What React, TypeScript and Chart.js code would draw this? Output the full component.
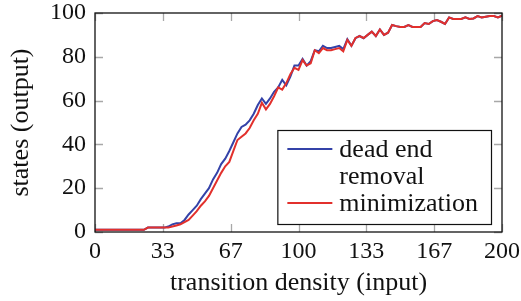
import React, { useEffect, useRef } from "react";
import { Chart, registerables } from "chart.js";

Chart.register(...registerables);

// x positions (transition density)
const xValues = [
  0, 2, 4, 6, 8, 10, 12, 14, 16, 18, 20, 22, 24, 26, 28, 30, 32, 34, 36, 38,
  40, 42, 44, 46, 48, 50, 52, 54, 56, 58, 60, 62, 64, 66, 68, 70, 72, 74, 76, 78,
  80, 82, 84, 86, 88, 90, 92, 94, 96, 98, 100, 102, 104, 106, 108, 110, 112, 114, 116, 118,
  120, 122, 124, 126, 128, 130, 132, 134, 136, 138, 140, 142, 144, 146, 148, 150, 152, 154, 156, 158,
  160, 162, 164, 166, 168, 170, 172, 174, 176, 178, 180, 182, 184, 186, 188, 190, 192, 194, 196, 198,
  200,
];

// dead end removal (blue)
const deadEndRemoval = [
  1, 1, 1, 1, 1, 1, 1, 1, 1, 1, 1, 1, 1, 2, 2, 2, 2, 2, 2.5, 3.5,
  4, 4, 5.5, 8, 10, 12, 15, 17.5, 20, 24, 27, 31, 33.5, 37, 41, 45, 48, 49, 51, 54,
  58, 61, 58.5, 61, 64, 66, 69.5, 67, 71, 76, 76, 79, 76, 78, 83, 82.5, 85, 84, 84, 84.5,
  85, 83.5, 88, 85, 88.5, 89.5, 88.5, 90, 91.5, 89.5, 92.5, 90, 91, 94.5, 94, 93.6, 93.6, 94.5, 93.6, 93.6,
  93.6, 95.4, 95, 96.3, 96.8, 96, 95, 98, 97.3, 97.3, 97.3, 98, 97.3, 97.5, 98.6, 98, 98.3, 98.6, 98.6, 98,
  98.8,
];

// minimization (red)
const minimization = [
  1, 1, 1, 1, 1, 1, 1, 1, 1, 1, 1, 1, 1, 2, 2, 2, 2, 2, 2, 2.5,
  3, 3.5, 4.5, 5.5, 7.5, 9.5, 12, 14, 16.5, 20, 23.5, 27, 30, 32, 37, 42, 43.5, 45, 47.5, 51,
  54, 59, 56, 58.5, 62, 66, 65, 68, 72, 75, 74, 78.5, 76, 77, 83, 81.7, 84, 83, 83, 83.5,
  84, 82.5, 87.7, 85, 88.6, 89.5, 88.6, 90, 91.5, 89.5, 92.5, 90, 91, 94.5, 94, 93.6, 93.6, 94.5, 93.6, 93.6,
  93.6, 95.4, 95, 96.3, 96.8, 96, 95, 98, 97.3, 97.3, 97.3, 98, 97.3, 97.5, 98.6, 98, 98.3, 98.6, 98.6, 98,
  98.8,
];

const seriesLabels = ["dead end\nremoval", "minimization"];
const seriesColors = ["rgb(52, 66, 168)", "rgb(226, 48, 44)"];

const xTickValues = [0, 33.333, 66.667, 100, 133.333, 166.667, 200];
const xTickLabels = ["0", "33", "67", "100", "133", "167", "200"];
const yTickValues = [0, 20, 40, 60, 80, 100];
const yTickLabels = ["0", "20", "40", "60", "80", "100"];

const FONT = '"Liberation Serif", "Times New Roman", serif';
const TEXT = "#111";

const frameAndTicks = {
  id: "frameAndTicks",
  beforeDatasetsDraw(chart: any) {
    const { ctx, chartArea, scales } = chart;
    const L = 8;
    ctx.save();
    ctx.strokeStyle = "#a8a8a8";
    ctx.lineWidth = 1.3;
    ctx.beginPath();
    for (const v of xTickValues) {
      const x = Math.round(scales.x.getPixelForValue(v)) + 0.5;
      ctx.moveTo(x, chartArea.bottom);
      ctx.lineTo(x, chartArea.bottom - L);
      ctx.moveTo(x, chartArea.top);
      ctx.lineTo(x, chartArea.top + L);
    }
    for (const v of yTickValues) {
      const y = Math.round(scales.y.getPixelForValue(v)) + 0.5;
      ctx.moveTo(chartArea.left, y);
      ctx.lineTo(chartArea.left + L, y);
      ctx.moveTo(chartArea.right, y);
      ctx.lineTo(chartArea.right - L, y);
    }
    ctx.stroke();
    ctx.restore();
  },
  afterDatasetsDraw(chart: any) {
    const { ctx, chartArea } = chart;
    ctx.save();
    ctx.strokeStyle = "#111";
    ctx.lineWidth = 1.3;
    ctx.strokeRect(
      chartArea.left,
      chartArea.top,
      chartArea.right - chartArea.left,
      chartArea.bottom - chartArea.top
    );
    ctx.restore();
  },
  afterDraw(chart: any) {
    const { ctx, chartArea } = chart;
    ctx.save();
    ctx.font = `26px ${FONT}`;
    const rows: { text: string; color: string | null }[] = [];
    chart.data.datasets.forEach((ds: any) => {
      const parts = String(ds.label).split("\n");
      parts.forEach((p: string, i: number) => rows.push({ text: p, color: i === 0 ? ds.borderColor : null }));
    });
    const textW = Math.max(...rows.map((r) => ctx.measureText(r.text).width));
    const padL = 10, sample = 45, gap = 7, padR = 13;
    const lineH = 27;
    const w = padL + sample + gap + textW + padR;
    const h = rows.length * lineH + 13;
    const right = chartArea.right - 11;
    const bottom = chartArea.bottom - 8;
    const left = right - w;
    const top = bottom - h;
    ctx.fillStyle = "#fff";
    ctx.fillRect(left, top, w, h);
    ctx.strokeStyle = "#111";
    ctx.lineWidth = 1.2;
    ctx.strokeRect(left + 0.5, top + 0.5, w, h);
    ctx.textBaseline = "alphabetic";
    ctx.textAlign = "left";
    rows.forEach((r, i) => {
      const base = top + 27 + i * lineH;
      if (r.color) {
        ctx.strokeStyle = r.color;
        ctx.lineWidth = 2;
        ctx.beginPath();
        ctx.moveTo(left + padL, base - 8);
        ctx.lineTo(left + padL + sample, base - 8);
        ctx.stroke();
      }
      ctx.fillStyle = TEXT;
      ctx.fillText(r.text, left + padL + sample + gap, base);
    });
    ctx.restore();
  },
};

export default function App() {
  const canvasRef = useRef<HTMLCanvasElement | null>(null);

  useEffect(() => {
    const canvas = canvasRef.current;
    if (!canvas) return;
    const series = [deadEndRemoval, minimization];
    const chart = new Chart(canvas, {
      type: "line",
      data: {
        datasets: series.map((vals, i) => ({
          label: seriesLabels[i],
          data: xValues.map((x, j) => ({ x, y: vals[j] })),
          borderColor: seriesColors[i],
          backgroundColor: seriesColors[i],
          borderWidth: 2,
          pointRadius: 0,
          tension: 0,
          fill: false,
          order: series.length - i,
        })),
      },
      options: {
        animation: false,
        responsive: false,
        maintainAspectRatio: false,
        layout: { padding: { top: 13, right: 19, left: 0, bottom: 0 } },
        plugins: { legend: { display: false }, tooltip: { enabled: false } },
        scales: {
          x: {
            type: "linear",
            min: 0,
            max: 200,
            afterBuildTicks: (s: any) => {
              s.ticks = xTickValues.map((v) => ({ value: v }));
            },
            afterFit: (s: any) => {
              s.height = 69;
              s.paddingLeft = 0;
              s.paddingRight = 0;
            },
            grid: { display: false, drawTicks: false },
            border: { display: false },
            ticks: {
              autoSkip: false,
              maxRotation: 0,
              padding: 5,
              color: TEXT,
              font: { family: FONT, size: 24 },
              callback: (_v: any, i: number) => xTickLabels[i],
            },
            title: {
              display: true,
              text: "transition density (input)",
              color: TEXT,
              font: { family: FONT, size: 26 },
              padding: { top: 0, bottom: 2 },
            },
          },
          y: {
            type: "linear",
            min: 0,
            max: 100,
            afterBuildTicks: (s: any) => {
              s.ticks = yTickValues.map((v) => ({ value: v }));
            },
            afterFit: (s: any) => {
              s.width = 95;
              s.paddingTop = 0;
              s.paddingBottom = 0;
            },
            grid: { display: false, drawTicks: false },
            border: { display: false },
            ticks: {
              padding: 9,
              color: TEXT,
              font: { family: FONT, size: 24 },
              callback: (_v: any, i: number) => yTickLabels[i],
            },
            title: {
              display: true,
              text: "states (output)",
              color: TEXT,
              font: { family: FONT, size: 26 },
              padding: { top: 6, bottom: 0 },
            },
          },
        },
      },
      plugins: [frameAndTicks],
    } as any);
    return () => chart.destroy();
  }, []);

  return (
    <div style={{ position: "fixed", left: 0, top: 0, width: 521, height: 301, background: "#fff" }}>
      <canvas ref={canvasRef} width={521} height={301} />
    </div>
  );
}
